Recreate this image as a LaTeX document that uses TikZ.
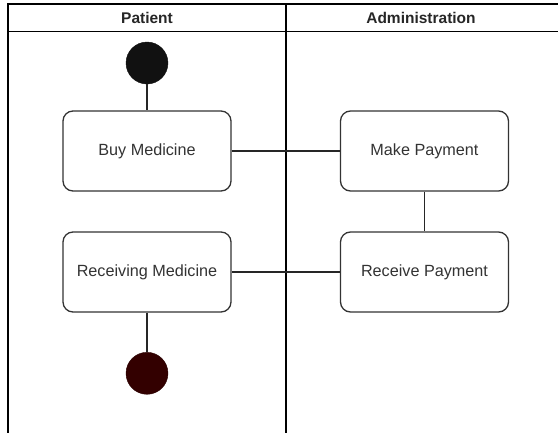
\documentclass[tikz,border=0pt]{standalone}
\usepackage{fontspec}
\setmainfont{Liberation Sans}
\definecolor{boxline}{HTML}{333333}
\definecolor{txt}{HTML}{333333}
\definecolor{startfill}{HTML}{111111}
\definecolor{endfill}{HTML}{330000}
\begin{document}
\begin{tikzpicture}[x=1pt,y=-1pt,
  actbox/.style={draw=boxline, line width=1.3pt, rounded corners=10pt, fill=white,
    minimum width=168pt, minimum height=80pt, inner sep=0pt, text=txt,
    font=\fontsize{16.2}{19}\selectfont},
  startnode/.style={circle, draw=startfill, fill=startfill, minimum size=42pt, inner sep=0pt},
  endnode/.style={circle, draw=endfill!80!black, fill=endfill, minimum size=42pt, inner sep=0pt},
  lanehead/.style={font=\fontsize{15.5}{18}\selectfont\bfseries, text=black!85, inner sep=0pt},
  frameline/.style={draw=black, line width=1.5pt},
  flow/.style={draw=black!85, line width=1.3pt}]
\useasboundingbox (0,0) rectangle (558,432);
\begin{scope}
\clip (0,0) rectangle (558,432);
% swimlane frame
\coordinate (tl) at (8,4);
\coordinate (tr) at (562,4);
\coordinate (hl) at (8,31.5);
\coordinate (hr) at (562,31.5);
\coordinate (bl) at (8,440);
\coordinate (dt) at (286,4);
\coordinate (db) at (286,440);
\draw[frameline] (tr) -- (tl) -- (bl);
\draw[frameline] (hl) -- (hr);
\draw[frameline] (dt) -- (db);
\end{scope}
\node[lanehead] (lp) at (147,17.5) {Patient};
\node[lanehead] (la) at (421,17.5) {Administration};
% nodes
\node[startnode] (start) at (147,63) {};
\node[actbox] (buy) at (147,151) {Buy Medicine};
\node[actbox] (make) at (424.5,151) {Make Payment};
\node[actbox] (recvpay) at (424.5,272) {Receive Payment};
\node[actbox] (recvmed) at (147,272) {Receiving Medicine};
\node[endnode] (end) at (147,373.3) {};
% connectors
\draw[flow] (start) -- (buy);
\draw[flow] (buy) -- (make);
\draw[flow] (make) -- (recvpay);
\draw[flow] (recvpay) -- (recvmed);
\draw[flow] (recvmed) -- (end);
\end{tikzpicture}
\end{document}
